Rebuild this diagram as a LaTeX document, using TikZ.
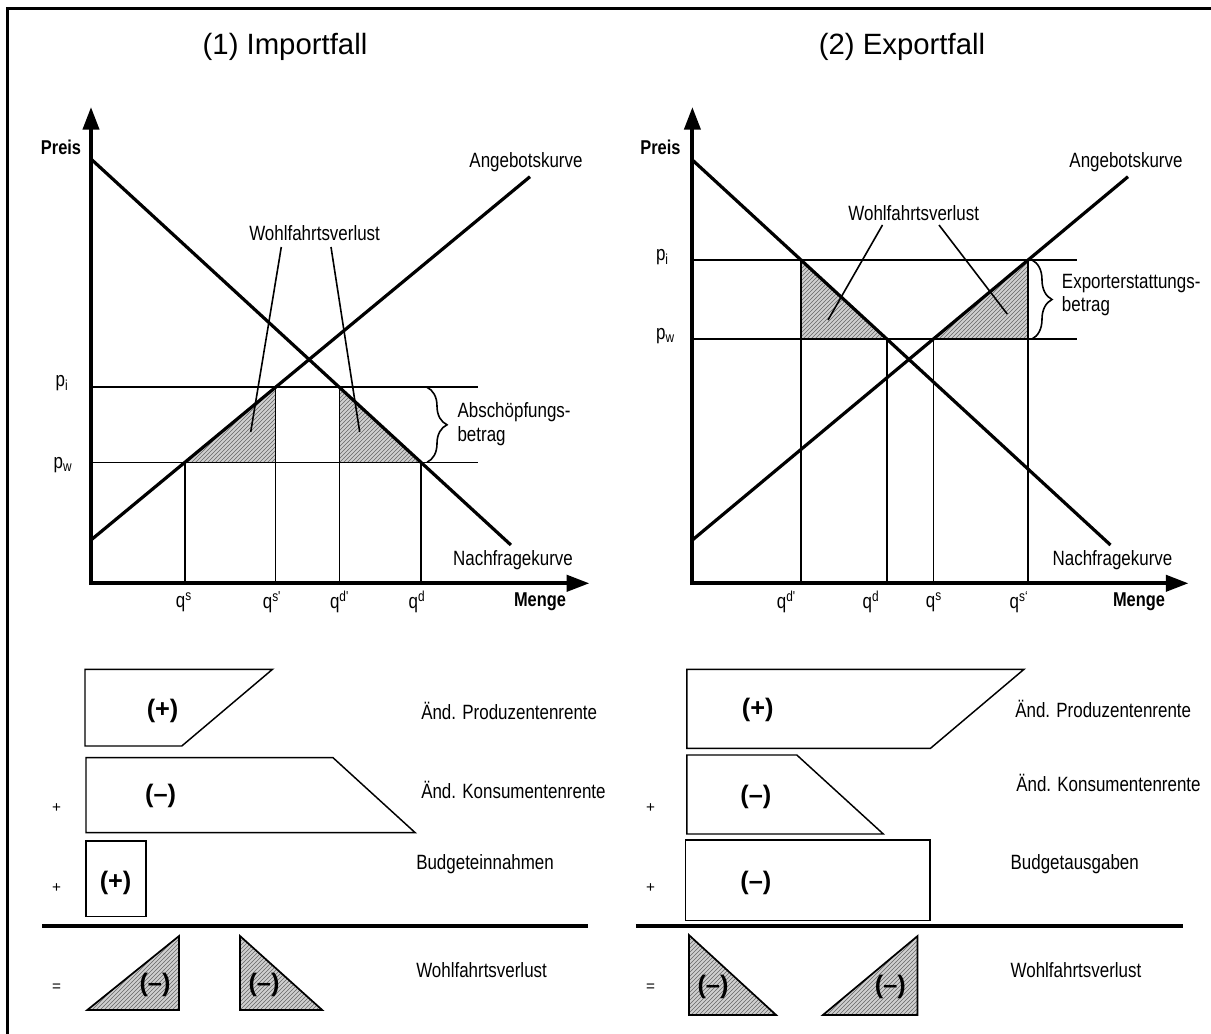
\documentclass[tikz,border=0pt]{standalone}
\usepackage{fontspec}
\setmainfont{Liberation Sans}
\newfontfamily\narrowfont[FakeStretch=0.82]{Liberation Sans}
\usetikzlibrary{arrows.meta,patterns,decorations.pathreplacing}
\tikzset{
 curve/.style={line width=2.4pt},
 axis/.style={line width=3pt,-{Triangle[length=17pt,width=12pt]}},
 thinline/.style={line width=1.2pt},
 lbl/.style={font=\narrowfont\fontsize{15.5}{17.5}\selectfont,inner sep=0pt},
 blbl/.style={font=\narrowfont\bfseries\fontsize{15}{18}\selectfont,inner sep=0pt},
 ttl/.style={font=\fontsize{22}{26}\selectfont,inner sep=0pt},
 hatch/.style={preaction={fill=gray!38},pattern=north east lines,pattern color=black!60},
 sgn/.style={font=\bfseries\fontsize{19}{21}\selectfont,inner sep=0pt},
 op/.style={font=\fontsize{11.5}{12}\selectfont,inner sep=0pt},
 box/.style={draw,line width=1.1pt},
 tri/.style={draw,line width=1.3pt,hatch},
 brc/.style={line width=1.2pt,decorate,decoration={brace,amplitude=15pt}},
}
\begin{document}
\begin{tikzpicture}[x=0.75pt,y=-0.75pt]
\useasboundingbox (0,0) rectangle (1211,1034);
% frame
\draw[line width=2.25pt] (6,8.5) -- (1211,8.5);
\draw[line width=2.25pt] (7.5,7.4) -- (7.5,1034);

% ================= LEFT GRAPH =================
\node[ttl] (t1) at (285,47) {(1) Importfall};
\coordinate (LO) at (91,583.3);
\coordinate (Dl1) at (91,159);
\coordinate (Dl2) at (510.9,545);
\coordinate (Sl1) at (91,540);
\coordinate (Sl2) at (530,176.7);
\coordinate (Lpi1) at (91,387.3);
\coordinate (Lpi2) at (478.4,387.3);
\coordinate (Lpw1) at (91,462.3);
\coordinate (Lpw2) at (478.4,462.3);
\coordinate (LSw) at (intersection of Sl1--Sl2 and Lpw1--Lpw2);
\coordinate (LSi) at (intersection of Sl1--Sl2 and Lpi1--Lpi2);
\coordinate (LDi) at (intersection of Dl1--Dl2 and Lpi1--Lpi2);
\coordinate (LDw) at (intersection of Dl1--Dl2 and Lpw1--Lpw2);
\fill[hatch] (LSw) -- (LSi) -- (LSi |- LSw) -- cycle;
\fill[hatch] (LDi) -- (LDw) -- (LDi |- LDw) -- cycle;
\draw[thinline] (Lpi1) -- (Lpi2);
\draw[thinline] (Lpw1) -- (Lpw2);
\draw[thinline] (LSw) -- (LSw |- LO);
\draw[thinline] (LSi) -- (LSi |- LO);
\draw[thinline] (LDi) -- (LDi |- LO);
\draw[thinline] (LDw) -- (LDw |- LO);
\draw[curve] (Dl1) -- (Dl2);
\draw[curve] (Sl1) -- (Sl2);
\draw[axis] (91,585) -- (91,107);
\draw[axis] (89.5,583.3) -- (589.4,583.3);
\node[blbl] (Lpreis) at (61,147) {Preis};
\node[blbl] (Lmenge) at (540,602) {Menge};
\node[lbl] (Lpi) at (62,383) {p\textsubscript{i}};
\node[lbl] (Lpw) at (63,465) {p\textsubscript{w}};
\node[lbl] (Lqs) at (184,602) {q\textsuperscript{s}};
\node[lbl] (Lqs2) at (272,602) {q\textsuperscript{s'}};
\node[lbl] (Lqd2) at (339.5,602) {q\textsuperscript{d'}};
\node[lbl] (Lqd) at (417,602) {q\textsuperscript{d}};
\node[lbl] (Lnach) at (513,560) {Nachfragekurve};
\node[lbl] (Langeb) at (526,162) {Angebotskurve};
\node[lbl] (Lwohl) at (314.6,233) {Wohlfahrtsverlust};
\coordinate (Lp1a) at (281.3,247);
\coordinate (Lp1b) at (250.7,432);
\coordinate (Lp2a) at (331,247);
\coordinate (Lp2b) at (359.7,432);
\draw[thinline] (Lp1a) -- (Lp1b);
\draw[thinline] (Lp2a) -- (Lp2b);
\draw[brc] (427,387.3) -- (427,462.3);
\node[lbl,anchor=west,align=left] (Labsch) at (457.3,424) {Abschöpfungs-\\betrag};

% ================= RIGHT GRAPH =================
\node[ttl] (t2) at (902,47) {(2) Exportfall};
\coordinate (RO) at (692.4,583.3);
\coordinate (Dr1) at (692.4,160);
\coordinate (Dr2) at (1110.5,545);
\coordinate (Sr1) at (692.4,540);
\coordinate (Sr2) at (1128,176.7);
\coordinate (Rpi1) at (692.4,260);
\coordinate (Rpi2) at (1077.4,260);
\coordinate (Rpw1) at (692.4,339);
\coordinate (Rpw2) at (1077.4,339);
\coordinate (RSw) at (intersection of Sr1--Sr2 and Rpw1--Rpw2);
\coordinate (RSi) at (intersection of Sr1--Sr2 and Rpi1--Rpi2);
\coordinate (RDi) at (intersection of Dr1--Dr2 and Rpi1--Rpi2);
\coordinate (RDw) at (intersection of Dr1--Dr2 and Rpw1--Rpw2);
\fill[hatch] (RDi) -- (RDw) -- (RDi |- RDw) -- cycle;
\fill[hatch] (RSw) -- (RSi) -- (RSi |- RSw) -- cycle;
\draw[thinline] (Rpi1) -- (Rpi2);
\draw[thinline] (Rpw1) -- (Rpw2);
\draw[thinline] (RDi) -- (RDi |- RO);
\draw[thinline] (RDw) -- (RDw |- RO);
\draw[thinline] (RSw) -- (RSw |- RO);
\draw[thinline] (RSi) -- (RSi |- RO);
\draw[curve] (Dr1) -- (Dr2);
\draw[curve] (Sr1) -- (Sr2);
\draw[axis] (692.4,585) -- (692.4,107);
\draw[axis] (690.9,583.3) -- (1188.5,583.3);
\node[blbl] (Rpreis) at (660.4,147) {Preis};
\node[blbl] (Rmenge) at (1139,602) {Menge};
\node[lbl] (Rpi) at (662.4,257) {p\textsubscript{i}};
\node[lbl] (Rpw) at (665.5,336) {p\textsubscript{w}};
\node[lbl] (Rqd2) at (786.3,602) {q\textsuperscript{d'}};
\node[lbl] (Rqd) at (871,602) {q\textsuperscript{d}};
\node[lbl] (Rqs) at (934,602) {q\textsuperscript{s}};
\node[lbl] (Rqs2) at (1019,602) {q\textsuperscript{s‘}};
\node[lbl] (Rnach) at (1112.5,560) {Nachfragekurve};
\node[lbl] (Rangeb) at (1126,162) {Angebotskurve};
\node[lbl] (Rwohl) at (913.7,213) {Wohlfahrtsverlust};
\coordinate (Rp1a) at (882.5,225);
\coordinate (Rp1b) at (828,320);
\coordinate (Rp2a) at (939,225);
\coordinate (Rp2b) at (1007.2,314);
\draw[thinline] (Rp1a) -- (Rp1b);
\draw[thinline] (Rp2a) -- (Rp2b);
\draw[brc] (1032,260) -- (1032,339);
\node[lbl,anchor=west,align=left] (Rexp) at (1061.7,295) {Exporterstattungs-\\betrag};

% ================= BOTTOM LEFT =================
\draw[box] (85,669.3) -- (272.5,669.3) -- (181.8,746) -- (85,746) -- cycle;
\node[sgn] (Lb1) at (162.6,710.7) {(+)};
\draw[box] (86,757.7) -- (333,757.7) -- (415.2,832.7) -- (86,832.7) -- cycle;
\node[sgn] (Lb2) at (160.7,796) {(–)};
\draw[box] (86,841) rectangle (145.8,916.7);
\node[sgn] (Lb3) at (115.6,882.7) {(+)};
\node[op] (Lplus1) at (56.6,807.7) {+};
\node[op] (Lplus2) at (56.6,887.7) {+};
\draw[line width=3pt] (42,925.7) -- (588,925.7);
\node[op] (Leq) at (56.6,987.7) {=};
\draw[tri] (87.3,1010) -- (179.1,936) -- (179.1,1010) -- cycle;
\node[sgn] (Lt1) at (155,985) {(–)};
\draw[tri] (240,936) -- (240,1010) -- (322.2,1010) -- cycle;
\node[sgn] (Lt2) at (264,985) {(–)};
\node[lbl,anchor=west] (Lprod) at (421,710.7) {Änd. Produzentenrente};
\node[lbl,anchor=west] (Lkons) at (421,790) {Änd. Konsumentenrente};
\node[lbl,anchor=west] (Lbudg) at (416,864) {Budgeteinnahmen};
\node[lbl,anchor=west] (Lwv) at (416,970) {Wohlfahrtsverlust};

% ================= BOTTOM RIGHT =================
\draw[box] (686.9,669.3) -- (1024,669.3) -- (930.5,748.3) -- (686.9,748.3) -- cycle;
\node[sgn] (Rb1) at (757.8,710) {(+)};
\draw[box] (686.9,755) -- (796.8,755) -- (883.3,834) -- (686.9,834) -- cycle;
\node[sgn] (Rb2) at (755.9,796.7) {(–)};
\draw[box] (685.7,840) rectangle (930,920.7);
\node[sgn] (Rb3) at (755.9,882.7) {(–)};
\node[op] (Rplus1) at (650.7,807.7) {+};
\node[op] (Rplus2) at (650.7,888) {+};
\draw[line width=3pt] (635.9,925.7) -- (1182.6,925.7);
\node[op] (Req) at (650.7,987.7) {=};
\draw[tri] (688.9,935) -- (688.9,1015) -- (776.1,1015) -- cycle;
\node[sgn] (Rt1) at (713,986.7) {(–)};
\draw[tri] (822.9,1015) -- (917.6,936) -- (917.6,1015) -- cycle;
\node[sgn] (Rt2) at (890.3,986.7) {(–)};
\node[lbl,anchor=west] (Rprod) at (1015,709) {Änd. Produzentenrente};
\node[lbl,anchor=west] (Rkons) at (1016,783) {Änd. Konsumentenrente};
\node[lbl,anchor=west] (Rbudg) at (1010.4,864) {Budgetausgaben};
\node[lbl,anchor=west] (Rwv) at (1010.4,970) {Wohlfahrtsverlust};
\end{tikzpicture}
\end{document}
